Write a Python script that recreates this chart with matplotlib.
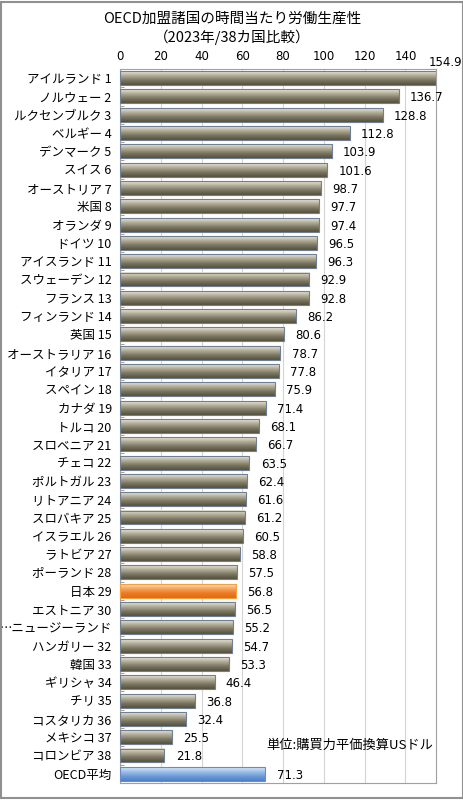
import numpy as np
import matplotlib
matplotlib.use("Agg")
import matplotlib.pyplot as plt
from matplotlib.colors import LinearSegmentedColormap
from matplotlib.patches import Rectangle

plt.rcParams["font.family"] = ["Noto Sans CJK JP", "DejaVu Sans"]

countries = [
    "アイルランド 1", "ノルウェー 2", "ルクセンブルク 3", "ベルギー 4", "デンマーク 5",
    "スイス 6", "オーストリア 7", "米国 8", "オランダ 9", "ドイツ 10",
    "アイスランド 11", "スウェーデン 12", "フランス 13", "フィンランド 14", "英国 15",
    "オーストラリア 16", "イタリア 17", "スペイン 18", "カナダ 19", "トルコ 20",
    "スロベニア 21", "チェコ 22", "ポルトガル 23", "リトアニア 24", "スロバキア 25",
    "イスラエル 26", "ラトビア 27", "ポーランド 28", "日本 29", "エストニア 30",
    "…ニュージーランド", "ハンガリー 32", "韓国 33", "ギリシャ 34", "チリ 35",
    "コスタリカ 36", "メキシコ 37", "コロンビア 38", "OECD平均",
]
values = [
    154.9, 136.7, 128.8, 112.8, 103.9, 101.6, 98.7, 97.7, 97.4, 96.5,
    96.3, 92.9, 92.8, 86.2, 80.6, 78.7, 77.8, 75.9, 71.4, 68.1,
    66.7, 63.5, 62.4, 61.6, 61.2, 60.5, 58.8, 57.5, 56.8, 56.5,
    55.2, 54.7, 53.3, 46.4, 36.8, 32.4, 25.5, 21.8, 71.3,
]
x_ticks = [0, 20, 40, 60, 80, 100, 120, 140]

title = "OECD加盟諸国の時間当たり労働生産性\n（2023年/38カ国比較）"
unit_note = "単位:購買力平価換算USドル"

cmap_gray = LinearSegmentedColormap.from_list("g", ["#eae6d8", "#b0ab96", "#7a7560", "#55503c"])
cmap_org = LinearSegmentedColormap.from_list("o", ["#fde0bc", "#f6a45a", "#ec7a22", "#e06a10"])
cmap_blue = LinearSegmentedColormap.from_list("b", ["#d8e8f8", "#9cc0ea", "#6e9ad8", "#4f7fc8"])

fig = plt.figure(figsize=(4.64, 8.0), dpi=100)
ax = fig.add_axes([0.2586, 0.0213, 0.681, 0.8925])

n = len(values)
h = 0.76
grad = np.linspace(0, 1, 64).reshape(-1, 1)
for i, (name, v) in enumerate(zip(countries, values)):
    if name.startswith("日本"):
        cm, ec = cmap_org, "#f0a040"
    elif name.startswith("OECD"):
        cm, ec = cmap_blue, "#6a8cc0"
    else:
        cm, ec = cmap_gray, "#6f7f94"
    ax.imshow(grad, cmap=cm, aspect="auto", extent=[0, v, i + h / 2, i - h / 2],
              zorder=2, interpolation="bilinear")
    ax.add_patch(Rectangle((0, i - h / 2), v, h, facecolor="none", edgecolor=ec,
                           linewidth=0.8, zorder=3))
    if i == 0:
        ax.text(v + 5, i - 0.5, f"{v:.1f}", ha="center", va="bottom", fontsize=8.5,
                family="DejaVu Sans", clip_on=False)
    else:
        ax.text(v + 5.5, i + 0.08, f"{v:.1f}", ha="left", va="center", fontsize=8.5,
                family="DejaVu Sans")

ax.set_xlim(0, 155)
ax.set_ylim(n - 0.5, -0.5)
ax.set_xticks(x_ticks)
ax.set_xticklabels([str(t) for t in x_ticks], family="DejaVu Sans", fontsize=8.5)
ax.xaxis.tick_top()
ax.tick_params(axis="x", length=0, pad=4)
ax.set_yticks(range(n))
ax.set_yticklabels(countries, fontsize=9)
ax.tick_params(axis="y", length=0, pad=6)
ax.set_yticks(np.arange(n) + 0.5, minor=True)
ax.tick_params(axis="y", which="minor", direction="in", length=3, color="#909090")
ax.grid(axis="x", color="#d4d4d4", linewidth=0.8, zorder=0)
ax.set_axisbelow(True)
for s in ax.spines.values():
    s.set_color("#a0a0a0")
    s.set_linewidth(0.8)

ax.text(0.99, 0.052, unit_note, transform=ax.transAxes, ha="right", va="center",
        fontsize=9.5)

fig.text(0.5, 0.985, title, ha="center", va="top", fontsize=10.5, linespacing=1.3)
fig.patches.append(Rectangle((0.003, 0.002), 0.994, 0.996, transform=fig.transFigure,
                             facecolor="none", edgecolor="#909090", linewidth=1.5))

fig.savefig("out.png", dpi=100)
